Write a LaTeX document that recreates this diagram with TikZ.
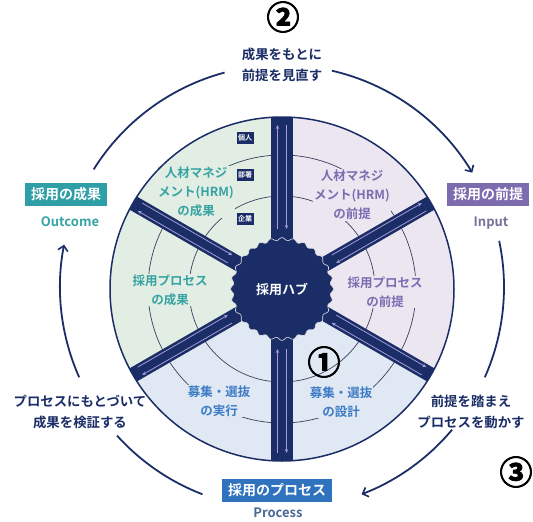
\documentclass[tikz,border=0pt]{standalone}
\usepackage{fontspec}
\setmainfont{Noto Sans CJK JP}[BoldFont={Noto Sans CJK JP Bold}]
\newfontfamily\circnum{Noto Sans CJK JP Bold}[FakeBold=2.5]
\usetikzlibrary{arrows.meta,calc}
\definecolor{navy}{HTML}{1B2D66}
\definecolor{greenbg}{HTML}{E2EEE3}
\definecolor{lavbg}{HTML}{ECE6F1}
\definecolor{bluebg}{HTML}{E0E8F4}
\definecolor{tealtxt}{HTML}{38A3A3}
\definecolor{purptxt}{HTML}{7C6CB0}
\definecolor{bluetxt}{HTML}{3D7CC4}
\definecolor{tealbox}{HTML}{2E9FA6}
\definecolor{purpbox}{HTML}{7D6BB0}
\definecolor{procbox}{HTML}{2F72BE}
\definecolor{inputtxt}{HTML}{7A7095}
\definecolor{proctxt}{HTML}{4A6A95}
\definecolor{arcgray}{HTML}{3A3F5C}
\definecolor{sparrowc}{HTML}{A49CD6}
\tikzset{
  sectxt/.style={align=center,font=\bfseries\fontsize{12.5}{19}\selectfont,inner sep=1pt},
  lbox/.style={font=\bfseries\fontsize{14}{14}\selectfont,text=white,inner xsep=6pt,inner ysep=0pt,minimum height=23pt},
  lsub/.style={font=\bfseries\fontsize{13}{13}\selectfont},
  flowtxt/.style={align=center,text=navy,font=\bfseries\fontsize{13.4}{20.5}\selectfont},
  numtxt/.style={font=\circnum\fontsize{33}{33}\selectfont,text=black},
  tagbox/.style={fill=navy,text=white,font=\bfseries\fontsize{7}{7}\selectfont,inner sep=1.5pt,minimum width=16pt,minimum height=12pt},
  outerarc/.style={draw=navy,line width=1.8pt},
  tipr/.style={-{Straight Barb[length=5pt,width=10pt,line width=1.6pt]}},
  ringarc/.style={draw=arcgray,line width=0.7pt},
  sparrow/.style={draw=sparrowc,line width=0.8pt}
}
\begin{document}
\begin{tikzpicture}[x=1pt,y=1pt]
\useasboundingbox (0,0) rectangle (533,-522);
\coordinate (C) at (282,-289);
\coordinate (O) at (282,-287);
% sectors
\begin{scope}[shift={(C)}]
  \fill[greenbg] (0,0) -- (90:172) arc[start angle=90,end angle=210,radius=172] -- cycle;
  \fill[bluebg] (0,0) -- (210:172) arc[start angle=210,end angle=330,radius=172] -- cycle;
  \fill[lavbg] (0,0) -- (-30:172) arc[start angle=-30,end angle=90,radius=172] -- cycle;
  \draw[ringarc] (0,0) circle[radius=93];
  \draw[ringarc] (0,0) circle[radius=134];
  % sector texts
  \node[sectxt,text=tealtxt,fill=greenbg] (hrmout) at (-86,97) {人材マネジ\\メント(HRM)\\の成果};
  \node[sectxt,text=purptxt,fill=lavbg] (hrmin) at (70,94) {人材マネジ\\メント(HRM)\\の前提};
  \node[sectxt,text=tealtxt,fill=greenbg] (procout) at (-112,-1) {採用プロセス\\の成果};
  \node[sectxt,text=purptxt,fill=lavbg] (procin) at (103,-3) {採用プロセス\\の前提};
  \node[sectxt,text=bluetxt,fill=bluebg] (exec) at (-63,-112) {募集・選抜\\の実行};
  \node[sectxt,text=bluetxt,fill=bluebg] (design) at (59,-113) {募集・選抜\\の設計};
  % spokes
  \foreach \a/\w in {90/22,-90/22,30/15,-30/15,150/15,-150/15}{
    \draw[navy,line width=\w pt] (\a:40) -- (\a:172);
    \begin{scope}[rotate=\a]
      \draw[sparrow,-{Stealth[length=4pt,width=3.5pt]}] (60,4.5) -- (164,4.5);
      \draw[sparrow,{Stealth[length=4pt,width=3.5pt]}-] (60,-4.5) -- (164,-4.5);
    \end{scope}
  }
  % gear
  \fill[navy] plot[domain=0:360,samples=361] (\x:{50+1.4*cos(28*\x)}) -- cycle;
  \draw[white!85!navy,line width=0.6pt] plot[domain=0:360,samples=361] (\x:{50+1.4*cos(28*\x)}) -- cycle;
  \node[text=white,font=\bfseries\fontsize{13}{13}\selectfont] (hub) at (0,0) {採用ハブ};
  \draw[navy,line width=1.5pt] (0,0) circle[radius=172];
  % tags
  \node[tagbox] (kojin) at (-37,151) {個人};
  \node[tagbox] (busho) at (-37,114) {部署};
  \node[tagbox] (kigyo) at (-37,70) {企業};
\end{scope}
% labels
\node[lbox,fill=tealbox] (outcome) at (66,-194) {採用の成果};
\node[lsub,text=tealtxt] (outcomeEn) at (70,-222) {Outcome};
\node[lbox,fill=purpbox] (input) at (488,-194) {採用の前提};
\node[lsub,text=inputtxt] (inputEn) at (491,-223) {Input};
\node[lbox,fill=procbox] (process) at (277,-490) {採用のプロセス};
\node[lsub,text=proctxt] (processEn) at (278,-513) {Process};
\node[flowtxt] (review) at (282,-65) {成果をもとに\\前提を見直す};
\node[flowtxt] (verify) at (80,-412) {プロセスにもとづいて\\成果を検証する};
\node[flowtxt] (move) at (471,-412) {前提を踏まえ\\プロセスを動かす};
\node[numtxt] (n2) at (283,-17) {②};
\node[numtxt] (n1) at (324,-362) {①};
\node[numtxt] (n3) at (516,-472) {③};
% outer cycle arcs
\begin{scope}[shift={(O)}]
  \coordinate (a1) at (148:222);
  \coordinate (a2) at (77:222);
  \coordinate (a3) at (12:222);
  \coordinate (a4) at (-40:222);
  \coordinate (a5) at (-111:222);
  \coordinate (a6) at (204:222);
\end{scope}
\draw[outerarc] (a1) arc[start angle=148,end angle=105,radius=222];
\draw[outerarc,tipr] (a2) arc[start angle=77,end angle=31,radius=222];
\draw[outerarc] (a3) arc[start angle=12,end angle=-24,radius=222];
\draw[outerarc,tipr] (a4) arc[start angle=-40,end angle=-69,radius=222];
\draw[outerarc] (a5) arc[start angle=-111,end angle=-138,radius=222];
\draw[outerarc,tipr] (a6) arc[start angle=204,end angle=169,radius=222];
\end{tikzpicture}
\end{document}
